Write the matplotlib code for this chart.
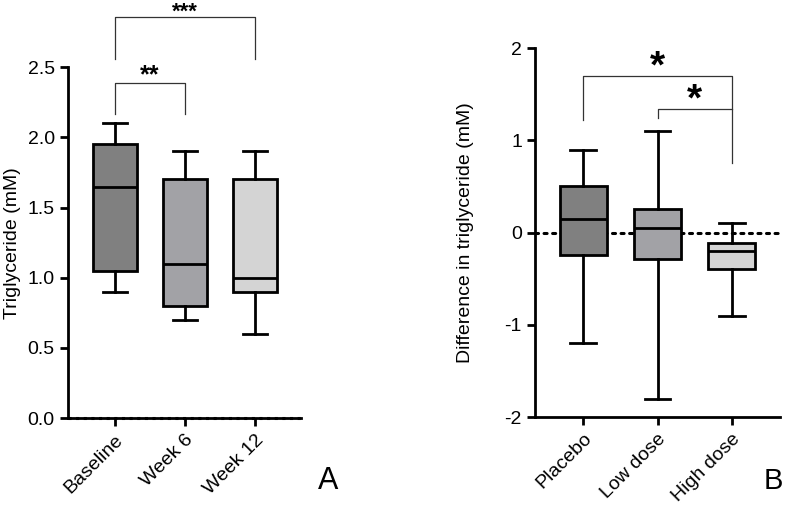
import matplotlib
matplotlib.use("Agg")
import matplotlib.pyplot as plt

plt.rcParams["font.family"] = ["Liberation Sans", "DejaVu Sans"]
plt.rcParams["axes.unicode_minus"] = False

# Panel A: triglyceride over time
a_labels = ["Baseline", "Week 6", "Week 12"]
a_low = [0.9, 0.7, 0.6]
a_q1 = [1.05, 0.8, 0.9]
a_med = [1.65, 1.1, 1.0]
a_q3 = [1.95, 1.7, 1.7]
a_high = [2.1, 1.9, 1.9]

# Panel B: difference by dose
b_labels = ["Placebo", "Low dose", "High dose"]
b_low = [-1.2, -1.8, -0.9]
b_q1 = [-0.24, -0.29, -0.39]
b_med = [0.15, 0.05, -0.2]
b_q3 = [0.51, 0.26, -0.11]
b_high = [0.9, 1.1, 0.1]

fills = ["#808080", "#a2a2a6", "#d4d4d4"]


def make_stats(low, q1, med, q3, high):
    return [dict(whislo=l, q1=a, med=m, q3=b, whishi=h, fliers=[])
            for l, a, m, b, h in zip(low, q1, med, q3, high)]


def draw_boxes(ax, stats):
    lw = 2.0
    bp = ax.bxp(stats, positions=range(len(stats)), widths=0.63, capwidths=0.34,
                patch_artist=True, showfliers=False,
                boxprops=dict(linewidth=lw, edgecolor="black"),
                medianprops=dict(color="black", linewidth=lw),
                whiskerprops=dict(color="black", linewidth=lw),
                capprops=dict(color="black", linewidth=lw))
    for patch, c in zip(bp["boxes"], fills):
        patch.set_facecolor(c)


def style_axis(ax):
    for s in ["top", "right"]:
        ax.spines[s].set_visible(False)
    for s in ["left", "bottom"]:
        ax.spines[s].set_linewidth(2.0)
    ax.tick_params(axis="both", width=2.0, length=6, labelsize=14)


def bracket(ax, x1, x2, y, y1, y2, text, ty, fs):
    ax.plot([x1, x1, x2, x2], [y1, y, y, y2], color="#333333", lw=0.9, clip_on=False)
    ax.text((x1 + x2) / 2, ty, text, ha="center", va="center", fontsize=fs,
            fontweight="bold", clip_on=False)


fig = plt.figure(figsize=(7.87, 5.13), dpi=100)

axA = fig.add_axes([0.0864, 0.185, 0.296, 0.684])
draw_boxes(axA, make_stats(a_low, a_q1, a_med, a_q3, a_high))
axA.set_xlim(-0.67, 2.66)
axA.set_ylim(0, 2.5)
axA.set_yticks([0.0, 0.5, 1.0, 1.5, 2.0, 2.5])
axA.set_yticklabels(["0.0", "0.5", "1.0", "1.5", "2.0", "2.5"])
axA.set_xticks(range(3))
axA.set_xticklabels(a_labels, rotation=45, ha="right", rotation_mode="anchor")
style_axis(axA)
axA.axhline(0, color="black", lw=2.2, ls=(0, (1, 1.5)), clip_on=False, zorder=5)
axA.set_ylabel("Triglyceride (mM)", fontsize=14, labelpad=5)
bracket(axA, 0, 1, 2.39, 2.17, 2.17, "**", 2.44, 18)
bracket(axA, 0, 2, 2.86, 2.56, 2.56, "***", 2.89, 16)
fig.text(0.404, 0.062, "A", fontsize=22, ha="left", va="center")

axB = fig.add_axes([0.680, 0.187, 0.311, 0.719])
axB.axhline(0, color="black", lw=2.2, ls=(0, (1, 1.8)), dash_capstyle="round", zorder=0.5)
draw_boxes(axB, make_stats(b_low, b_q1, b_med, b_q3, b_high))
axB.set_xlim(-0.645, 2.645)
axB.set_ylim(-2, 2)
axB.set_yticks([-2, -1, 0, 1, 2])
axB.set_xticks(range(3))
axB.set_xticklabels(b_labels, rotation=45, ha="right", rotation_mode="anchor")
style_axis(axB)
axB.set_ylabel("Difference in triglyceride (mM)", fontsize=14, labelpad=22)
bracket(axB, 0, 2, 1.70, 1.22, 0.75, "*", 1.79, 28)
bracket(axB, 1, 2, 1.34, 1.24, 1.34, "*", 1.43, 28)
fig.text(0.97, 0.062, "B", fontsize=21, ha="left", va="center")

fig.savefig("out.png", dpi=100)
